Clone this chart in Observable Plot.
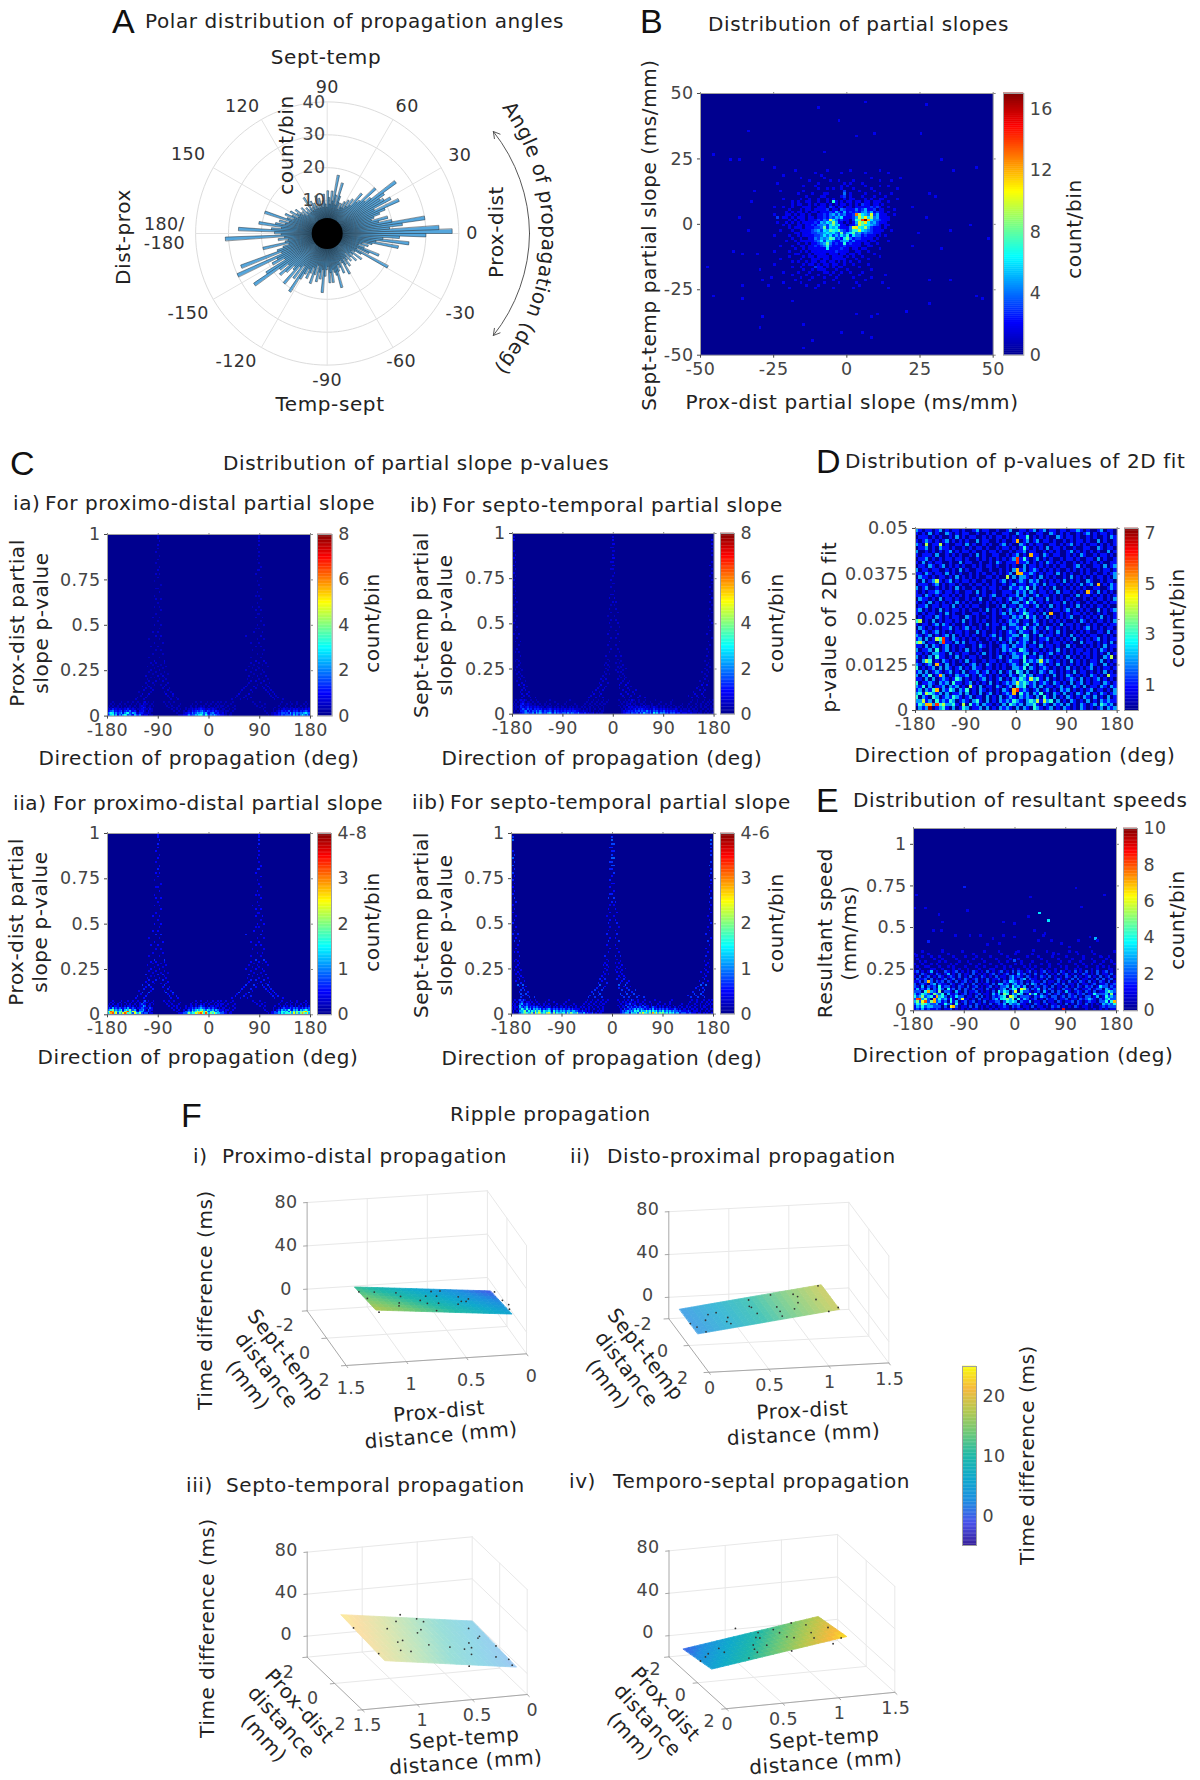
<!DOCTYPE html>
<html><head><meta charset="utf-8">
<script src="https://cdn.jsdelivr.net/npm/d3@7"></script>
<script src="https://cdn.jsdelivr.net/npm/@observablehq/plot@0.6"></script>
<style>
html,body{margin:0;padding:0;background:#fff}
#page{position:relative;width:1200px;height:1780px;overflow:hidden;font-family:"DejaVu Sans",sans-serif;background:#fff}
#page svg{position:absolute;overflow:visible;background:transparent;font-family:"DejaVu Sans",sans-serif;letter-spacing:.4px}
.t{position:absolute;white-space:pre;text-align:center;line-height:1.2;color:#222;letter-spacing:.6px}
.L{font-family:"Liberation Sans",sans-serif;font-size:34px;color:#111;letter-spacing:0}
</style></head><body><div id="page"></div>
<script>
// ---------- DATA ----------
// A: counts per 2-degree bin, first bin centred at -179
const polarCounts=[14,31,13,15,12,13,20,12,14,16,28,15,30,17,19,15,22,27,18,15,19,17,14,15,20,13,17,12,21,16,14,12,15,13,11,16,13,10,15,12,14,11,18,13,11,10,15,12,15,11,12,13,17,12,10,11,13,9,10,14,11,9,12,10,9,11,8,10,12,9,10,13,9,10,12,21,10,14,17,12,10,13,11,14,22,15,25,17,22,30,38,34,19,23,30,20,16,19,14,15,17,19,24,16,22,20,19,21,26,17,15,20,14,13,16,11,13,10,12,9,11,9,10,8,10,12,16,9,12,18,10,13,9,11,13,8,9,12,10,8,9,11,8,12,8,9,10,8,11,9,8,13,9,8,10,8,9,11,8,10,9,12,10,11,13,10,12,14,11,13,20,12,15,13,16,21,14,17,27,16];
const polarAngleLabels=[[0,"0"],[30,"30"],[60,"60"],[90,"90"],[120,"120"],[150,"150"],[-30,"-30"],[-60,"-60"],[-90,"-90"],[-120,"-120"],[-150,"-150"]];
const polarRadii=[10,20,30,40];
const polarSpokes=[0,30,60,90,120,150];

// B: counts, x from -30 by 1, rows from y=20 down by 1
const slopeRows=[
"00000000000010000000000100000001000000000100000000",
"00000000000000000001000000001000000010000000100000",
"00000000100000000000010000000000000000000000000000",
"00000000000000100000001000000000000000100000000010",
"00000000000000000100000010010000100000000100010000",
"00000010000000000000100000000101000100000000000000",
"00000000000000010001000000001010000010000100100000",
"00000000000000000000100101001000100000100000000100",
"00000001000000010000000000000300001000010000000000",
"00000000000001000010001100000401000010000100010000",
"00000000000000001000011000001301000100010001000000",
"00000000100000100100100101000201100010100210000100",
"0000000000"+"0101001100"+"1001071010"+"1201201201"+"1100100000",
"0000000000"+"0101100101"+"0110201022"+"0102032101"+"2010000000",
"0000010010"+"0100011100"+"1210320220"+"1102121231"+"3100100000",
"0000000000"+"1000101101"+"1113021043"+"1124235223"+"0110001000",
"0000000001"+"0101101011"+"0121325325"+"1323245351"+"3210100000",
"0000010001"+"1010110100"+"2132453534"+"123d9654a3"+"5211001000",
"0000000021"+"0102110210"+"1132435462"+"2135a7b694"+"5211100000",
"0000000000"+"1020110111"+"3243a64132"+"10378ehc64"+"4321100000",
"0000001002"+"0101012123"+"2546595210"+"1015a8b645"+"3221000000",
"0000000010"+"1001102132"+"4453685621"+"0124a86654"+"3101100000",
"0000000000"+"1011102223"+"3483656322"+"14ab769532"+"2101000000",
"0000000100"+"0100111134"+"5365876843"+"2477a65431"+"2110010000",
"0000000000"+"0011011233"+"4456564383"+"5684534332"+"1100000000",
"0000010000"+"1001012123"+"3464635364"+"7264423211"+"0101000000",
"0000000000"+"0100100214"+"3545873426"+"8423321210"+"1000000000",
"0000000001"+"0010111123"+"4636532245"+"5242112011"+"0000100000",
"0000000000"+"0001001022"+"3458423127"+"2311201100"+"1000000000",
"0000000100"+"0100110113"+"2347312123"+"1121100110"+"0000000000",
"0000000000"+"0010010112"+"2216121231"+"1012011000"+"0100000000",
"0000010000"+"1000101021"+"2121213121"+"1001100100"+"0000000000",
"0000000000"+"0011000102"+"1210211022"+"0110100001"+"0000000000",
"0000000000"+"1000010110"+"2111021110"+"1010010000"+"0100000000",
"0000000100"+"0000100021"+"1021012112"+"0001000100"+"0000000000",
"0000000000"+"0101001011"+"0120110201"+"0100100000"+"0000000000",
"0000010000"+"0000010120"+"1011021001"+"0010000100"+"0000000000",
"0000000000"+"0100100003"+"2201010110"+"0000100000"+"0000000000",
"0000000000"+"0000010010"+"1110001000"+"1000000010"+"0000000000",
"0000000010"+"0001000100"+"0011010010"+"0100010000"+"0000000000",
"0000000000"+"0100001000"+"1000100100"+"0000100000"+"0001000000",
"0000100000"+"0000100010"+"0010001000"+"0010000010"+"0000000000",
"0000000000"+"0010000100"+"0000010000"+"0000001000"+"0000000000",
"0000000020"+"0000100000"+"0010000100"+"0001000000"+"0010000000",
"0001000000"+"0000001000"+"1000000000"+"0000100000"+"0000000000",
"0000000000"+"1000000001"+"0000010000"+"0010000000"+"0000100000"];
const slopeOutliers=[[-40,24,2],[-10,44,1],[6,46,1],[27,45,1],[-3,39,1],[-34,35,1],[25,34,1],[9,34,1],[3,33,1],[-8,27,1],[-46,26,1],[-37,24,1],[-29,24,1],[-25,21,1],[32,24,1],[44,21,1],[36,20,1],[28,11,1],[30,10,1],[42,-1,1],[48,-6,1],[35,-3,1],[32,-10,1],[28,-22,1],[35,-22,1],[44,-28,1],[46,-29,1],[28,-31,1],[20,-34,2],[3,-35,1],[8,-36,1],[10,-35,1],[-15,-39,1],[-29,-36,2],[-30,-40,1],[-36,-29,2],[-46,-28,1],[-48,-17,1],[-36,-24,1],[-39,-11,1],[-36,-12,1],[-31,-12,1],[-30,-18,1],[-29,-22,1],[-19,-30,1],[-12,-45,1],[-15,-48,1],[-2,-42,1],[5,-42,1],[8,-44,1],[-24,2,3],[-37,2,1],[-34,-3,1],[-33,8,1],[22,6,1],[24,-4,1],[27,2,1],[22,-9,1],[-32,12,1]];

// C: proximo-distal p-value map. Bottom rows from p=0.08 down, 3-degree columns
const pdBottom=[
"0001000010001001001001201001"+"0000010010010000"+"00000000100100010010010100100010"+"00000000001000100000"+"000000010000100010000100",
"0010100100100010010102110010"+"0000001001000001"+"00000010010000100100101001000100"+"00000000000100000100"+"000000100010010010001010",
"0101001010010100100121100101"+"0000000100100010"+"00000100100101001001010110010001"+"00000000000010010000"+"000001000100100100100100",
"1010111010101101010113201100"+"0000000010010100"+"00100110101211010110110100100010"+"00000000000000100100"+"000100101010110101010101",
"1213121211213112101122110210"+"0000000000100101"+"00101121212322112121101011001001"+"00000000000000001000"+"001001012111212121121212",
"2345232341343522310223102110"+"0000000000010010"+"01012132343453243231321110110010"+"00000000000000000100"+"001012132324213231323432",
"4687353462578436521332112100"+"0000000000000100"+"01223253465674632453231120100100"+"00000000000000000010"+"011213244342635354546754",
"3578462536874532643521220110"+"0000000000000011"+"12235344657864853546433221101100"+"00000000000000000001"+"011223243444536353575463"];
const pdStreaks=[[.09,.6,[-129,-114,-66,-54,42,57,69,117,132]],[.10,.7,[-126,-111,-69,-57,48,63,75,114,123]],[.11,.5,[-120,-108,-72,-63,51,66,111,120]],[.12,.9,[-117,-105,-75,-63,54,72,108,117]],[.13,.5,[-123,-102,-78,-66,57,78,105,114]],[.14,.7,[-114,-99,-72,60,75,102,111]],[.15,.6,[-111,-102,-81,-69,63,84,99,108]],[.16,.8,[-117,-105,-78,66,81,96,105]],[.17,.5,[-108,-96,-84,-75,69,87,102]],[.18,.6,[-111,-99,-72,72,93,108]],[.19,.7,[-105,-93,-81,75,84,99]],[.20,.5,[-108,-87,-75,69,90,105]],[.21,.4,[-102,-96,-78,78,96]],[.22,.7,[-111,-90,-81,72,87,102]],[.23,.4,[-99,-84,-72,81,93]],[.24,.5,[-105,-93,-78,75,99]],[.25,.6,[-102,-87,66,84,96]],[.26,.4,[-96,-81,78,90]],[.27,.5,[-108,-90,-75,72,87,105]],[.28,.4,[-99,-84,81,96]],[.29,.6,[-102,-93,-78,75,90,102]],[.30,.8,[-96,-78,84,99]],[.32,.5,[-105,-87,75,93]],[.34,.5,[-99,-81,87,96]],[.36,.5,[-93,-84,78,99]],[.38,.6,[-102,-90,84,93]],[.40,.6,[-96,-81,75,90]],[.42,.5,[-105,-87,87,99]],[.44,.7,[-93,-84,66,93]],[.46,.6,[-99,-90,81,96]],[.48,.5,[-87,84,90]],[.50,.6,[-96,-84,87,99]],[.52,.5,[-90,93]],[.54,.6,[-99,-87,84,96]],[.56,.5,[-93,87,90]],[.58,.6,[-84,93,84]],[.60,.5,[-96,-87,90,78]],[.62,.5,[-90,87]],[.64,.6,[-93,-84,93]],[.66,.5,[-96,84,90]],[.68,.6,[-87,87]],[.70,.5,[-93,-90,93]],[.72,.5,[-84,90]],[.74,.4,[-96,87]],[.76,.6,[-90,93]],[.78,.6,[-93,-87,84]],[.80,.7,[-90,90,87]],[.82,.6,[-87,93]],[.84,.5,[-93,90]],[.86,.6,[-90,87]],[.88,.5,[-87,90]],[.90,.6,[-93,90]],[.92,.6,[-90,87]],[.94,.7,[-90,90]],[.96,.7,[-87,90]],[.98,.6,[-90,90]],[.99,.6,[-90,90]]];

// C: septo-temporal p-value map
const stBottom=[
"00101"+"21210010010000000100000000000100000"+"000001001001001"+"0010000010"+"00101021001000100000100000000010000000"+"000010010001"+"00101",
"01010"+"12101101001000010000100000010000000"+"000010010010010"+"0100000001"+"01010110101001000100000100000100000000"+"000100010010"+"01010",
"10100"+"23112110100100100100001000100000100"+"000100100100101"+"1000000000"+"10011201100110100010001000100100000010"+"001000100100"+"10101",
"01101"+"31212111101010101010010010010010010"+"001001010010010"+"0000000010"+"01020110210102011010010101001001000100"+"010010010101"+"01010",
"10110"+"32123121212111011110101011010101010"+"010100101001001"+"0000000001"+"01102121121211211012110101010100101010"+"010100100101"+"10010",
"10101"+"24324231323231212321212121211212111"+"101010100100101"+"0000000000"+"10211212313232121213121212121111210101"+"101011010010"+"01011",
"01010"+"33452424353542433431423232323323322"+"112110101001011"+"0000000000"+"12123232434243353424342324232323221211"+"112101110100"+"10100",
"01001"+"23454335264653435642524334425354335"+"221312112010110"+"0000000000"+"12233143342536443527463545342434233122"+"211211101101"+"01001"];
const stStreaks=[[.09,.8,[-162,-147,-138,-42,-30,-18,21,30,45,57,141,153,165]],[.10,.7,[-159,-150,-39,-24,18,33,48,135,150,162]],[.11,.9,[-162,-153,-33,-21,15,27,39,147,159]],[.12,.7,[-165,-150,-36,-24,24,36,144,162]],[.13,.8,[-162,-156,-30,-18,18,30,42,156,165]],[.14,.7,[-159,-27,-15,12,27,150,162]],[.15,.6,[-165,-153,-24,-12,21,33,153]],[.16,1,[-168,-159,-21,12,24,159,168]],[.17,.7,[-162,-24,-9,15,27,162]],[.18,.6,[-171,-156,-18,18,30,156,171]],[.19,.7,[-165,-21,-12,9,21,165]],[.20,.5,[-168,-159,-15,15,24,162]],[.21,.6,[-162,-18,12,21,168]],[.22,.5,[-171,-165,-12,-6,18,165]],[.23,.6,[-168,-15,9,15,159,171]],[.24,.5,[-174,-162,-9,6,18,168]],[.25,.6,[-165,-12,12,24,165]],[.26,.5,[-171,-6,9,15,174]],[.27,.6,[-168,-15,-9,18,168]],[.28,.5,[-165,-12,6,12,171]],[.29,.5,[-174,-168,-6,15,165]],[.30,.5,[-171,-9,9,174]],[.32,.7,[-165,-12,6,15,168]],[.34,.6,[-174,-168,-6,12,171]],[.36,.6,[-171,-3,9,168]],[.38,.6,[-168,-9,6,174]],[.40,.8,[-174,-165,-6,12,171]],[.42,.6,[-171,-3,6,177]],[.44,.7,[-177,-168,-9,9,168]],[.46,.6,[-174,-6,6,174]],[.48,.5,[-171,-3,12,171]],[.50,.7,[-177,-6,9,177]],[.52,.6,[-174,-3,6,174]],[.54,.5,[-171,-9,3,171]],[.56,.6,[-177,-3,9,177]],[.58,.6,[-174,-6,6,174]],[.60,.5,[-177,-3,3,177]],[.62,.7,[-171,0,6,174]],[.64,.8,[-174,-6,3,177]],[.66,.7,[-177,-3,0,174]],[.68,.6,[-174,3,177]],[.70,.6,[-177,-3,174]],[.72,.6,[-174,0,3,177]],[.74,.7,[-177,-3,177]],[.76,.6,[-174,0,174]],[.78,.8,[-177,3,177]],[.80,.7,[-174,-3,0,177]],[.82,.9,[-177,0,3,174]],[.84,.8,[-174,-3,0,177]],[.86,1,[-177,0,3]],[.88,.8,[-174,0,177]],[.90,.7,[-177,0,3,177]],[.92,.7,[-3,0,177]],[.94,.9,[0,3,177]],[.96,1,[-177,0,177]],[.98,.8,[-177,0]]];

// D: counts, 60 columns of 6 deg, 50 rows of 0.001, top row first
const fitRows=[
"210110120101101001201100100120011012012011011011210100120110",
"101020100210101100100101001100210100110021010100101201011010",
"011101010010201011001010110101011301010100210110100101001021",
"101210101201010100201100101001101201201101001010110100201001",
"210101100100110201001010012010021010110011010120101011010101",
"011201021101001010110100101101013101010201101001001100210110",
"200101010120101101001011010010112011001010100120101010100201",
"101110200101010010201001100101201001102101100101021001011010",
"011201010110110100101010101012013101201010010110100110201001",
"102010110010020110010010210111011201010210101001010101010011",
"011021012010101001010110100101002011010101011001201001102012",
"201101100101020100110010010102212012101010100101010100101101",
"110210110201010010101001010120101121010110201010010101001012",
"021101011010201010100110100102022101020101001020101010110102",
"102012010120101101001001012010121021201010102010100210010110",
"011101201011010010110101001012011012102011010101020120101021",
"201200101010201001001011010021121302010102001010101001100121",
"101011210110100110201001001110212021011010201101010010201010",
"110210101101010100101012001011202101201101010010201101010101",
"021101020110100101020010110120121020110201010101001010110102",
"101020101010201010010101010102201312010101102010100101001011",
"011201101102010101100100102011021101201020101010201010110100",
"120101020101101010010201010120212011010101101201010100201012",
"101011010201001001101001012021013210102010010101101010101001",
"010110210101100210100101001102120312010201010120010101020101",
"300102010110102010101001010121201102101010101001021010110102",
"101101202101001010010201101022101201201001020110100101001011",
"021010101120101201010101002011213012010210101010101201010110",
"102101201010110100201001010121021102101010201001010100110201",
"210120101202010101001012010112203201020110101020101011001010",
"120201030102101010100101020121012201011201010102010101201011",
"302011020110202011010010101020212102010101101010020110101020",
"110202101201011001021010012102112011020110100201001010102011",
"201120301201010201010010102121032101101010201010110101021010",
"110102211020101100102010101012112202010120101010101101010201",
"201020311010201011010010120102213011020101010201010101002120",
"102030102101010201001011010121103121201210101020101011020101",
"210120210201001012010210101012102301021010201010101021002010",
"301012020210120102110110101002213021012101010201010120101101",
"120201210120102011201201020120320201021021010102011010102010",
"202130102010211201021010101021023120110102010210101021010211",
"110202012101320101012010120102132102310201010121020101201010",
"301121021203110120101020101212023212012102101020120101102101",
"213020112021201021020110210120323012020110120102102011021021",
"120213102132021301021010102102312101201201021201010120110102",
"231032120201120201020120101212031202130102102010210201021012",
"302103201213210120110201020121021210203102010210102102010201",
"223120312132012102310201021213210232310230201021010201021211",
"132032130223102031202110102032120223102102120201021012032120",
"021230123102013201120201021210202103210120102101021010120212"];
const fitHot=[[30,9,6],[30,8,6],[30,12,5],[31,12,5],[30,11,5],[30,3,5],[34,7,5],[27,13,4],[54,15,5],[51,17,5],[40,23,5],[8,31,6],[8,30,6],[6,30,4],[1,25,4],[3,4,4],[7,4,4],[6,14,4],[1,31,4],[3,36,4],[6,37,5],[7,40,5],[37,36,4],[58,35,4],[57,40,4],[34,41,4],[30,42,4],[30,44,6],[29,45,5],[29,44,5],[6,44,5],[3,45,4],[16,43,4],[2,47,4],[3,48,5],[4,48,5],[6,48,6],[4,49,7],[8,48,4],[14,48,4],[36,47,4],[38,47,4]];

// E: counts, 72 columns of 5 deg, 24 rows of 0.015, highest speed first
const speedRows=[
"000100000010000001000000010000100000010000000001000000010000000100000001",
"100001000000100000000100000000010000100000100000000100000010000010000000",
"000100100100001000100010000100000100000010001000010000100000100000100100",
"010000010010000100000100100001000010010000000100000100001000100100001000",
"001010000101000010010000010000100100001000100001000010010001000010010010",
"100100101000010100001001000100010000101001000100100100000100100100100001",
"010011000100101000100010010001001010000101010000100010100010010001010100",
"001000110010001010010001000110001001010010100101001000100101000101000110",
"120101301002101201010210102010120102021012010120101021010201020102012010",
"010210102101301020110201010120101201031201020102010201201010210102011020",
"102012010210121020102010210102011023121021010210201010210201012010201201",
"021120201012012010210120102011201023102102110102001210102020110102020120",
"112021202120210201201020102010102103212010211020110201020102102010210201",
"201210230211021012010201011020131202312020020210102102011020110120112012",
"210302120312201021020120101201022304231301021021020110201021021201022021",
"131213021420112020210201102010123024403120211020210102110210112012203212",
"222041321502210310201120101020224302504221012011020210310121021020113132",
"312432153240311201201012011021305403243010210201201201021021201102223141",
"423523412342021022011020201021234065302221021021022012021201022013012232",
"264352052423141026110102011023104535041320120102112011201102120210213422",
"352632572312031301201201020112202434302112011020110210112021012110224145",
"243543223114220410201021010201213032231101021012011010201021020101032324",
"132423322202061201102020101010112102120110201101021201010210110100121222",
"121312112101120101010110100101011101011010010110010000000000010010101011"];
const speedHot=[[1,4,8],[2,4,8.5],[4,3,8],[5,7,7],[5,11,7],[14,1,7],[17,4,6],[53,0,9],[71,3,7],[8,5,7],[7,4,7],[38,8,6],[36,7,6],[28,6,3],[30,7,4],[31,4,3.5],[43,6,4],[44,8,3],[45,5,3],[41,3,3],[42,10,3],[30,10,3],[34,11,3.5],[39,12,3],[46,7,3],[39,8,5],[41,6,5],[10,6,4],[12,8,4],[15,5,3.5],[13,3,4],[9,9,4],[64,6,4],[66,9,3.5],[68,5,4],[69,7,4.5],[70,6,5],[62,4,3]];
const speedOutliers=[[-89,.74,1.5],[109,.734,1],[29,.68,1],[159,.694,1],[-174,.694,1],[-177,.614,1],[-158,.614,1],[-84,.6,1],[119,.62,1],[25,.564,1],[45,.584,3.5],[60,.54,3.5],[-134,.574,1],[-127,.53,1],[-143,.48,1],[-130,.48,1],[35,.48,1],[54,.46,1],[0,.52,1],[-20,.53,1],[-153,.414,1.5],[-128,.36,1],[-104,.45,1],[-79,.45,1],[-60,.45,1],[-38,.43,1],[-20,.45,1],[-48,.396,1],[-26,.4,1],[0,.44,1],[42,.42,1],[51,.45,1],[66,.42,1],[83,.4,1],[113,.42,1],[134,.44,1],[143,.43,3],[134,.38,1],[147,.42,1],[98,.38,1],[69,.34,1],[33,.36,1],[3,.35,1],[0,.3,2],[110,.35,1],[-174,.33,1],[154,.32,1],[171,.3,1]];

// F: fitted planes [aMin,aMax], [bMin,bMax], z at (aMin,bMin),(aMax,bMin),(aMin,bMax),(aMax,bMax); points [a,b,ms]
const planeI={a:[.05,1.18],b:[-1.1,1.1],z:[-.7,11.1,5.7,17.5]};
const planeII={a:[0,1.18],b:[-.92,.92],z:[2.4,18.4,2.4,18.4]};
const planeIII={a:[.05,1.245],b:[-1.6,1.6],z:[5.3,23,1.6,19.3]};
const planeIV={a:[0,1.2],b:[-1,1],z:[-.3,18,5.2,23.5]};
const pointsI=[[1.18,-.64,12.4],[1.05,-.66,11],[1.16,-.02,14],[.87,-.66,9],[.86,-.31,10],[.92,.29,12],[.95,.64,14],[.72,-.02,9],[.64,-.44,7],[.68,.22,9],[.56,-.88,5.2],[.55,-.44,6.4],[.59,.26,9],[.48,-.95,4.2],[.66,.92,11],[.37,-.44,4.5],[.43,.29,7.3],[.38,0,5.9],[.34,0,5.6],[.3,-.26,4.3],[.02,-1.03,-1],[.02,-.22,1.5],[0,.18,2.5],[.03,.62,4],[1.17,1.3,18]];
const pointsII=[[0,.15,2.4],[.03,.46,2.8],[.13,.11,4.2],[.18,-.24,4.8],[.25,-.27,5.8],[.07,.88,3.4],[.31,.18,6.6],[.28,.44,6.2],[.3,.61,6.4],[.56,-.74,10],[.53,-.31,9.6],[.54,-.22,9.8],[.55,.24,9.8],[.75,-.83,12.5],[.73,.04,12.3],[.73,.37,12.3],[.72,.7,12.1],[.92,-.61,14.9],[.94,-.4,15.2],[.91,0,14.7],[.85,.37,13.9],[1.06,0,16.8],[1.15,-.88,18],[1.09,.92,17],[1.18,.78,18.4]];
const pointsIII=[[1.245,-.67,22],[1.24,1.12,20],[.93,-.74,17.4],[.78,-1.3,15.8],[.68,-1.8,14.9],[.95,.19,16.5],[.89,.06,15.8],[1,.8,16.7],[.91,.83,15.2],[.56,-1.56,12.9],[.52,-1.38,12],[.62,-.77,13],[.68,-.54,13.5],[.68,.29,12.5],[.5,.38,9.7],[.38,.48,7.9],[.15,-1.06,6],[.28,0,6.8],[.3,.35,6.8],[.36,.83,7.1],[.12,-.51,5.1],[.15,-.38,5.3],[.49,1.7,8],[.05,.13,3.3],[.15,.93,3.8],[.05,1.06,2.2],[.07,1.47,2]];
const pointsIV=[[0,.2,3],[.07,0,3.7],[.12,-.2,3.7],[.24,-.4,5.1],[.24,-.02,6.1],[.54,-1.6,6.2],[.35,.84,10],[.5,-.04,10],[.47,.28,10.3],[.46,.56,10.9],[.59,-.56,9.8],[.65,-.88,9.9],[.61,-.44,10.6],[.59,.2,11.9],[.78,-.84,11.9],[.79,-.48,13.2],[.8,-.04,14.6],[.84,.14,15.6],[.71,1,15],[.96,-1,14.3],[1.04,-.6,16.6],[1.01,0,17],[.97,.52,18.7],[1.16,0,20.2],[1.04,1.3,22],[1.15,1,22.7]];
const dirTicks=[-180,-90,0,90,180];
const pTicks=[0,.25,.5,.75,1];
const slopeTicks=[-50,-25,0,25,50];
const fitTicks=[0,.0125,.025,.0375,.05];
const timeTicks=[0,40,80];
const distTicks=[0,.5,1,1.5];
const sideTicks=[-2,0,2];

// ---------- HELPERS ----------
const page=document.getElementById("page");
const jet=d3.piecewise(d3.interpolateRgb,["#00008f","#0000ff","#0080ff","#00ffff","#80ff80","#ffff00","#ff8000","#ff0000","#800000"]);
const parula=d3.piecewise(d3.interpolateRgb,["#38219a","#4a52ea","#1e8fe0","#0fa9cc","#1fb8a8","#6cc878","#b4c850","#f6b93c","#f9fb0e"]);
function place(svg,left,top){svg.style.left=left+"px";svg.style.top=top+"px";page.appendChild(svg);}
function lab(text,x,y,o={}){
  const d=document.createElement("div");d.className="t"+(o.cls?" "+o.cls:"");d.textContent=text;
  d.style.left=x+"px";d.style.top=y+"px";
  if(o.size)d.style.fontSize=o.size+"px"; else if(!o.cls)d.style.fontSize="20px";
  if(o.color)d.style.color=o.color;
  d.style.transform=(o.start?"translate(0,-50%)":"translate(-50%,-50%)")+(o.rot?` rotate(${o.rot}deg)`:"");
  page.appendChild(d);
}
const TICK="#454545",FS=17.5;
function heat(box,xd,yd,xt,yt,cells,max){
  const [x0,x1,y0,y1]=box,ml=70,mr=24,mt=8,mb=30,w=x1-x0,h=y1-y0;
  const svg=Plot.plot({width:w+ml+mr,height:h+mt+mb,marginLeft:ml,marginRight:mr,marginTop:mt,marginBottom:mb,
    x:{domain:xd},y:{domain:yd},color:{type:"linear",domain:[0,max],interpolate:jet,clamp:true},
    marks:[Plot.frame({fill:jet(0),stroke:null}),
      Plot.rect(cells,{x1:"x1",x2:"x2",y1:"y1",y2:"y2",fill:"c",shapeRendering:"crispEdges"}),
      Plot.frame({stroke:"#a0a0a0"}),
      Plot.axisX(xt,{anchor:"bottom",tickSize:3,tickPadding:4,fontSize:FS,color:TICK,tickFormat:String,label:null}),
      Plot.axisY(yt,{anchor:"left",tickSize:3,tickPadding:4,fontSize:FS,color:TICK,tickFormat:String,label:null}),
      Plot.axisX(xt,{anchor:"top",tickSize:2,color:"#888",tickFormat:()=>"",label:null}),
      Plot.axisY(yt,{anchor:"right",tickSize:2,color:"#888",tickFormat:()=>"",label:null})]});
  place(svg,x0-ml,y0-mt);
}
function cbar(x0,x1,y0,y1,dom,ticks,fmt,interp=jet){
  const mr=44,h=y1-y0,w=x1-x0,N=128,stops=d3.range(N);
  const [a,b]=dom;
  const svg=Plot.plot({width:w+mr,height:h+16,marginLeft:0,marginRight:mr,marginTop:8,marginBottom:8,
    x:{domain:[0,1],axis:null},y:{domain:dom},color:{type:"linear",domain:dom,interpolate:interp},
    marks:[Plot.rect(stops,{x1:0,x2:1,y1:i=>a+(b-a)*i/N,y2:i=>a+(b-a)*(i+1.2)/N,fill:i=>a+(b-a)*(i+.5)/N}),
      Plot.frame({stroke:"#a0a0a0"}),
      Plot.axisY(ticks,{anchor:"right",tickSize:0,tickPadding:6,fontSize:FS,color:TICK,tickFormat:fmt||String,label:null})]});
  place(svg,x0,y0-8);
}
function gridCells(rows,x0,dx,yTop,dy){
  const out=[];
  rows.forEach((s,r)=>{for(let c=0;c<s.length;c++){const v=parseInt(s[c],36);if(v>0)out.push({x1:x0+c*dx,x2:x0+(c+1)*dx,y1:yTop-(r+1)*dy,y2:yTop-r*dy,c:v});}});
  return out;
}
function pCells(bottom,streaks){
  const out=gridCells(bottom,-180,3,.08,.01).map(d=>({...d,c:d.c/2.5}));
  for(const [p,c,degs] of streaks)for(const g of degs)out.push({x1:g-1.5,x2:g+1.5,y1:p-.005,y2:p+.005,c:c*.85});
  return out;
}

// ---------- A: polar ----------
(function(){
  const k=3.29,cx=326.7,cy=233,left=90,top=30,W=520,H=405;
  const toXY=(r,deg)=>[r*Math.cos(deg*Math.PI/180),r*Math.sin(deg*Math.PI/180)];
  const labelAt={"0":[44,0],"30":[46.8,30.5],"60":[45.6,57.8],"90":[44.5,90],"120":[46.4,123.8],"150":[48.6,150.4],"-30":[47.2,-31],"-60":[45,-60],"-90":[44.5,-90],"-120":[47.8,-125.4],"-150":[48.8,-150]};
  const lxy=d=>toXY(...labelAt[d[1]]);
  const bars=polarCounts.flatMap((n,i)=>{const a=-179+2*i;return [[0,0],toXY(n,a-1),toXY(n,a+1)].map(p=>({id:i,x:p[0],y:p[1]}));});
  const rings=polarRadii.flatMap(r=>d3.range(0,361,3).map(t=>{const p=toXY(r,t);return {id:r,x:p[0],y:p[1]};}));
  const spokes=polarSpokes.flatMap(t=>[toXY(40,t),toXY(40,t+180)].map(p=>({id:t,x:p[0],y:p[1]})));
  const svg=Plot.plot({width:W,height:H,margin:0,
    x:{domain:[(left-cx)/k,(left+W-cx)/k],axis:null},y:{domain:[(cy-top-H)/k,(cy-top)/k],axis:null},
    marks:[
      Plot.line(rings,{x:"x",y:"y",z:"id",stroke:"#dcdcdc",strokeWidth:1}),
      Plot.line(spokes,{x:"x",y:"y",z:"id",stroke:"#e2e2e2",strokeWidth:1}),
      Plot.line(bars,{x:"x",y:"y",z:"id",fill:"#55a6dc",stroke:"#0d1a26",strokeWidth:.45,curve:"linear-closed"}),
      Plot.dot([0],{x:0,y:0,r:15.5,fill:"#000",stroke:null}),
      Plot.text(polarAngleLabels,{x:d=>lxy(d)[0],y:d=>lxy(d)[1],text:d=>d[1],fontSize:FS,fill:"#333"}),
      Plot.text(["180/\n-180"],{x:-49.5,y:0,text:d=>d,fontSize:FS,fill:"#333",lineHeight:1.1}),
      Plot.text(polarRadii,{x:-4,y:d=>d,text:String,fontSize:FS,fill:"#444"}),
      Plot.arrow([[61.5,0,50.5,31]],{x1:d=>d[0],y1:d=>d[1],x2:d=>d[2],y2:d=>d[3],bend:-19,stroke:"#444",strokeWidth:.9,headLength:12}),
      Plot.arrow([[61.5,0,50.5,-31]],{x1:d=>d[0],y1:d=>d[1],x2:d=>d[2],y2:d=>d[3],bend:19,stroke:"#444",strokeWidth:.9,headLength:12}),
      (i,{x,y})=>{
        const R=x(65.5)-x(0),X=x(0),Y=y(0),a=52*Math.PI/180;
        const g=d3.create("svg:g");
        g.append("defs").append("path").attr("id","arcA").attr("d",`M${X+R*Math.cos(a)},${Y-R*Math.sin(a)}A${R},${R} 0 0 1 ${X+R*Math.cos(a)},${Y+R*Math.sin(a)}`);
        g.append("text").attr("font-size",20).attr("fill","#222").append("textPath").attr("href","#arcA").attr("startOffset","51.5%").attr("text-anchor","middle").text("Angle of propagation (deg)");
        return g.node();
      }
    ]});
  place(svg,left,top);
})();
lab("A",112,21,{cls:"L",start:1});
lab("Polar distribution of propagation angles",145,21,{start:1});
lab("Sept-temp",326,57);
lab("Temp-sept",330,404);
lab("Dist-prox",123,237,{rot:-90});
lab("Prox-dist",496,232,{rot:-90});
lab("count/bin",286,145,{rot:-90});

// ---------- B ----------
const slopeCells=gridCells(slopeRows,-30,1,21,1).concat(slopeOutliers.map(([x,y,c])=>({x1:x,x2:x+1,y1:y,y2:y+1,c}))).map(d=>({...d,c:Math.max(d.c,1.8)}));
heat([700,992.7,93.3,355],[-50,50],[-50,50],slopeTicks,slopeTicks,slopeCells,17);
cbar(1002.7,1023,93.3,355,[0,17],[0,4,8,12,16]);
lab("B",640,21,{cls:"L",start:1});
lab("Distribution of partial slopes",708,24,{start:1});
lab("Sept-temp partial slope (ms/mm)",649,235,{rot:-90});
lab("Prox-dist partial slope (ms/mm)",852,402);
lab("count/bin",1074,229,{rot:-90});

// ---------- C ----------
const pdCells=pCells(pdBottom,pdStreaks),stCells=pCells(stBottom,stStreaks);
heat([107,310,533.7,715.3],[-180,180],[0,1],dirTicks,pTicks,pdCells,8);
cbar(317.3,332,533.7,715.3,[0,8],[0,2,4,6,8]);
heat([511.7,713.3,533.3,714],[-180,180],[0,1],dirTicks,pTicks,stCells,8);
cbar(720,734,533.3,714,[0,8],[0,2,4,6,8]);
heat([107,310,832.7,1014],[-180,180],[0,1],dirTicks,pTicks,pdCells,4);
cbar(316.7,330.7,832.7,1014,[0,4],[0,1,2,3,4],d=>d===4?"4-8":String(d));
heat([511,713,832.7,1013.3],[-180,180],[0,1],dirTicks,pTicks,stCells,4);
cbar(720,734,832.7,1013.3,[0,4],[0,1,2,3,4],d=>d===4?"4-6":String(d));
lab("C",10,463,{cls:"L",start:1});
lab("Distribution of partial slope p-values",223,463,{start:1});
lab("ia)",13,503,{start:1});lab("For proximo-distal partial slope",45,503,{start:1});
lab("ib)",410,505,{start:1});lab("For septo-temporal partial slope",442,505,{start:1});
lab("iia)",13,803,{start:1});lab("For proximo-distal partial slope",53,803,{start:1});
lab("iib)",412,802,{start:1});lab("For septo-temporal partial slope",450,802,{start:1});
lab("Prox-dist partial\nslope p-value",29,623,{rot:-90});
lab("Sept-temp partial\nslope p-value",433,625,{rot:-90});
lab("Prox-dist partial\nslope p-value",28,922,{rot:-90});
lab("Sept-temp partial\nslope p-value",433,925,{rot:-90});
lab("Direction of propagation (deg)",199,758);
lab("Direction of propagation (deg)",602,758);
lab("Direction of propagation (deg)",198,1057);
lab("Direction of propagation (deg)",602,1058);
lab("count/bin",372,623,{rot:-90});lab("count/bin",776,623,{rot:-90});
lab("count/bin",372,922,{rot:-90});lab("count/bin",776,923,{rot:-90});

// ---------- D ----------
const fitMap=fitRows.map(s=>s.split(""));
for(const [c,r,v] of fitHot)fitMap[r][c]=String(v);
heat([915,1116.7,528,710],[-180,180],[0,.05],dirTicks,fitTicks,gridCells(fitMap.map(r=>r.join("")),-180,6,.05,.001),7.2);
cbar(1124,1138,528,710,[0,7.2],[1,3,5,7]);
lab("D",816,461,{cls:"L",start:1});
lab("Distribution of p-values of 2D fit",845,461,{start:1});
lab("p-value of 2D fit",829,627,{rot:-90});
lab("Direction of propagation (deg)",1015,755);
lab("count/bin",1177,618,{rot:-90});

// ---------- E ----------
const speedCells=gridCells(speedRows,-180,5,.36,.015)
  .concat(speedHot.map(([c,r,v])=>({x1:-180+c*5,x2:-175+c*5,y1:r*.015,y2:(r+1)*.015,c:v})))
  .concat(speedOutliers.map(([x,y,c])=>({x1:x-2.5,x2:x+2.5,y1:y-.0075,y2:y+.0075,c})));
heat([913,1116,827.7,1010],[-180,180],[0,1.095],dirTicks,pTicks,speedCells,10);
cbar(1123,1137,827.7,1010,[0,10],[0,2,4,6,8,10]);
lab("E",816,800,{cls:"L",start:1});
lab("Distribution of resultant speeds",853,800,{start:1});
lab("Resultant speed\n(mm/ms)",837,933,{rot:-90});
lab("Direction of propagation (deg)",1013,1055);
lab("count/bin",1177,920,{rot:-90});

// ---------- F ----------
function panel3d(box,view,plane,points,aFar,alpha,off){
  const [L,T,W,H]=box,{o,ea,eb,ez}=view,aNear=1.5-aFar;
  const px=(a,b,z)=>o[0]+a*ea[0]+(b-2)*eb[0];
  const py=(a,b,z)=>o[1]+a*ea[1]+(b-2)*eb[1]+(z+20)*ez;
  const P=(a,b,z)=>({x:px(a,b,z),y:py(a,b,z)});
  const seg=(list)=>list.flatMap((s,i)=>[{id:i,...P(...s[0])},{id:i,...P(...s[1])}]);
  const grid=[];
  for(const z of [-20,0,40,80]){grid.push([[0,-2,z],[1.5,-2,z]]);}
  for(const a of [.5,1,aFar]){grid.push([[a,-2,-20],[a,-2,80]]);grid.push([[a,-2,-20],[a,2,-20]]);}
  for(const z of [0,40,80])grid.push([[aFar,-2,z],[aFar,2,z]]);
  for(const b of [0,2])grid.push([[aFar,b,-20],[aFar,b,80]]);
  for(const b of [0,2])grid.push([[0,b,-20],[1.5,b,-20]]);
  const axes=[[[aNear,-2,-20],[aNear,-2,80]],[[aNear,-2,-20],[aNear,2,-20]],[[aNear,2,-20],[aFar,2,-20]]];
  const sgn=aNear>aFar?1:-1;
  for(const z of timeTicks)axes.push([[aNear,-2,z],[aNear+sgn*.03,-2,z]]);
  for(const b of sideTicks)axes.push([[aNear,b,-20],[aNear+sgn*.04,b,-20]]);
  for(const a of distTicks)axes.push([[a,2,-20],[a,2.15,-20]]);
  const n=24,m=8,[a0,a1]=plane.a,[b0,b1]=plane.b,[z00,z10,z01,z11]=plane.z,quads=[];
  const zAt=(u,v)=>z00*(1-u)*(1-v)+z10*u*(1-v)+z01*(1-u)*v+z11*u*v;
  for(let i=0;i<n;i++)for(let j=0;j<m;j++){
    const tone=zAt((i+.5)/n,(j+.5)/m);
    for(const [p,q] of [[i,j],[i+1,j],[i+1,j+1],[i,j+1]]){
      const u=p/n,w=q/m;
      quads.push({id:i*100+j,tone,...P(a0+(a1-a0)*u,b0+(b1-b0)*w,zAt(u,w))});
    }
  }
  const fade=t=>d3.interpolateRgb("#ffffff",parula(t))(alpha);
  const tx={fontSize:FS,fill:TICK};
  const svg=Plot.plot({width:W,height:H,margin:0,
    x:{domain:[L,L+W],range:[0,W],axis:null},y:{domain:[T,T+H],range:[0,H],axis:null},
    color:{type:"linear",domain:[-4.8,25],interpolate:fade},
    marks:[
      Plot.line(seg(grid),{x:"x",y:"y",z:"id",stroke:"#e8e8e8",strokeWidth:1}),
      Plot.line(seg(axes),{x:"x",y:"y",z:"id",stroke:"#a8a8a8",strokeWidth:1}),
      Plot.line(quads,{x:"x",y:"y",z:"id",fill:"tone",stroke:"tone",strokeWidth:.8,curve:"linear-closed"}),
      Plot.dot(points,{x:d=>px(...d),y:d=>py(...d),r:.9,fill:"#333",stroke:null}),
      Plot.text(timeTicks,{x:d=>px(aNear,-2,d),y:d=>py(aNear,-2,d),text:String,dx:-21,dy:off.z,...tx}),
      Plot.text(sideTicks,{x:d=>px(aNear,d,-20),y:d=>py(aNear,d,-20),text:String,dx:off.b[0],dy:off.b[1],...tx}),
      Plot.text(distTicks,{x:d=>px(d,2,-20),y:d=>py(d,2,-20),text:String,dx:off.a[0],dy:off.a[1],...tx})
    ]});
  place(svg,L,T);
}
panel3d([170,1170,420,290],{o:[526,1353.3],ea:[-120.2,7.8],eb:[9.77,13.67],ez:-1.083},planeI,pointsI,0,1,{z:0,b:[-22,15],a:[5,23]});
panel3d([590,1170,330,290],{o:[708.3,1371.8],ea:[120,-6.25],eb:[10,13.4],ez:-1.07},planeII,pointsII,1.5,.8,{z:-2,b:[-26,6],a:[1,16]});
panel3d([170,1500,420,280],{o:[526.7,1694],ea:[-110,10.2],eb:[13.75,13.17],ez:-1.05},planeIII,pointsIII,0,.45,{z:-2,b:[-22,15],a:[5,16]});
panel3d([590,1500,330,280],{o:[725.7,1708.2],ea:[112.4,-10.9],eb:[14.3,12.96],ez:-1.06},planeIV,pointsIV,1.5,1,{z:-3,b:[-17,13],a:[1,16]});
cbar(962,976,1366,1545,[-4.8,25],[0,10,20],String,parula);
lab("F",181,1115,{cls:"L",start:1});
lab("Ripple propagation",450,1114,{start:1});
lab("i)",193,1156,{start:1});lab("Proximo-distal propagation",222,1156,{start:1});
lab("ii)",570,1156,{start:1});lab("Disto-proximal propagation",607,1156,{start:1});
lab("iii)",186,1485,{start:1});lab("Septo-temporal propagation",226,1485,{start:1});
lab("iv)",569,1481,{start:1});lab("Temporo-septal propagation",613,1481,{start:1});
lab("Time difference (ms)",205,1300,{rot:-90});
lab("Time difference (ms)",207,1628,{rot:-90});
lab("Time difference (ms)",1027,1455,{rot:-90});
lab("Sept-temp\ndistance\n(mm)",267,1370,{rot:52});
lab("Sept-temp\ndistance\n(mm)",627,1369,{rot:52});
lab("Prox-dist\ndistance\n(mm)",282,1722,{rot:48});
lab("Prox-dist\ndistance\n(mm)",648,1720,{rot:48});
lab("Prox-dist\ndistance (mm)",440,1423,{rot:-5});
lab("Prox-dist\ndistance (mm)",803,1422,{rot:-3});
lab("Sept-temp\ndistance (mm)",465,1750,{rot:-4});
lab("Sept-temp\ndistance (mm)",825,1750,{rot:-4});
</script></body></html>
